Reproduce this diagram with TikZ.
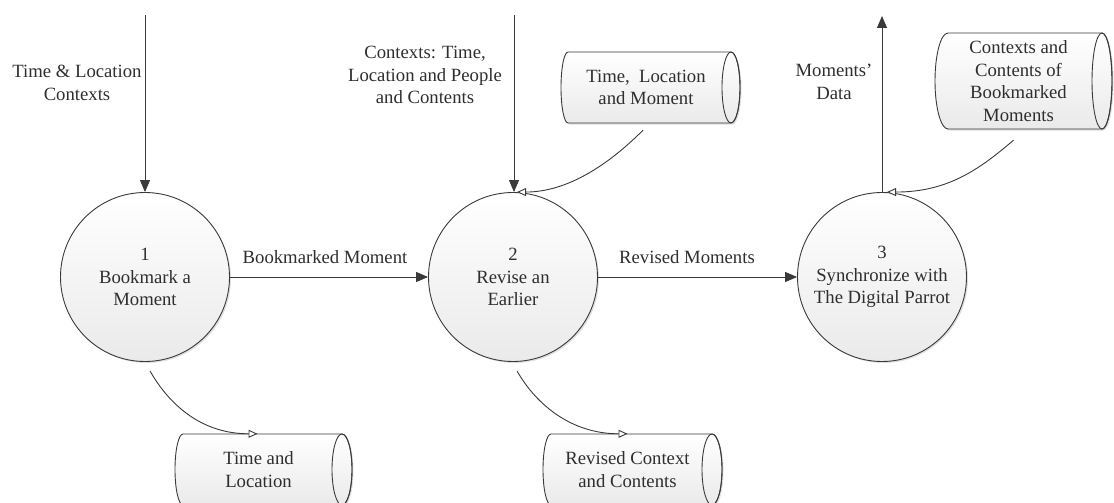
\documentclass[tikz,border=0pt]{standalone}
\usepackage{fontspec}
\setmainfont{Liberation Serif}
\usetikzlibrary{arrows.meta,shadows}

\definecolor{ink}{HTML}{3A3A3A}
\definecolor{txt}{HTML}{2E2E2E}
\definecolor{shadebot}{HTML}{EAEAEA}

\tikzset{
  dfdfont/.style={font=\fontsize{18.7}{22.7}\selectfont, text=txt},
  softshadow/.style={drop shadow={shadow xshift=1.5pt, shadow yshift=-1.5pt,
      opacity=0.18, fill=black!70}},
  proc/.style={circle, draw=ink, line width=0.9pt, minimum size=169pt,
    inner sep=0pt, align=center, top color=white, bottom color=shadebot,
    softshadow, dfdfont},
  storefill/.style={draw=ink, line width=0.9pt, top color=white,
    bottom color=shadebot, softshadow},
  storeline/.style={draw=ink, line width=0.9pt},
  storetext/.style={inner sep=0pt, align=center, dfdfont},
  lbl/.style={inner sep=0pt, align=center, dfdfont},
  flow/.style={draw=ink, line width=0.9pt, -{Triangle[length=12pt,width=10pt]}},
  flowopen/.style={draw=ink, line width=0.9pt,
    -{Triangle[open,length=9pt,width=8pt,fill=white]}},
}

% data store drawn as a horizontal cylinder:
% #1 name, #2 left x, #3 right x, #4 top y, #5 bottom y,
% #6 bulge of the left end, #7 half width of the right end, #8 text
\newcommand{\drawstore}[8]{%
  \pgfmathsetmacro\dsry{(#5-#4)/2}%
  \pgfmathsetmacro\dsyc{(#4+#5)/2}%
  \pgfmathsetmacro\dsxc{(#2-#6+#3)/2}%
  \pgfmathsetmacro\dsw{#3-#2+#6}%
  \pgfmathsetmacro\dsh{#5-#4}%
  \path[storefill] (#2,#4) -- (#3,#4)
    arc[start angle=270, end angle=450, x radius=#7, y radius=\dsry]
    -- (#2,#5)
    arc[start angle=90, end angle=270, x radius=#6, y radius=\dsry] -- cycle;
  \draw[storeline] (#3,\dsyc) ellipse[x radius=#7, y radius=\dsry];
  \node[storetext, minimum width=\dsw pt, minimum height=\dsh pt] (#1)
    at (\dsxc,\dsyc) {#8};
}

\begin{document}
\begin{tikzpicture}[x=1pt, y=-1pt]
  \useasboundingbox (0,0) rectangle (1114,503);
  \clip (0,0) rectangle (1114,503);

  % processes
  \node[proc] (p1) at (145,277) {1\\Bookmark a\\Moment};
  \node[proc] (p2) at (513,277) {2\\Revise an\\Earlier};
  \node[proc] (p3) at (882,277) {3\\Synchronize with\\The Digital Parrot};

  % data stores
  \drawstore{sMoment}{568}{731}{52}{123}{7}{9}{Time,\ \ Location\\and Moment}
  \drawstore{sBookmarked}{948}{1102}{33}{129}{13}{10}{Contexts and\\Contents of\\Bookmarked\\Moments}
  \drawstore{sTimeLoc}{183}{342}{434}{505}{8}{10}{Time and\\Location}
  \drawstore{sRevised}{551}{712}{434}{505}{8}{10}{Revised Context\\and Contents}

  % external ends of the flows
  \coordinate (in1) at (145,15);
  \coordinate (in2) at (514,15);
  \coordinate (out3) at (882,16);

  % flows
  \draw[flow] (in1) -- (p1.north);
  \draw[flow] (in2) -- ([xshift=1pt]p2.north);
  \draw[flow] (p3.north) -- (out3);
  \draw[flow] (p1.east) -- (p2.west);
  \draw[flow] (p2.east) -- (p3.west);

  \draw[flowopen] ([shift={(-3,7)}]sMoment.south)
    .. controls +(-35,35) and +(50,0) .. ([xshift=4pt]p2.north);
  \draw[flowopen] ([shift={(-5,11)}]sBookmarked.south)
    .. controls +(-35,30) and +(60,0) .. ([xshift=5pt]p3.north);
  \draw[flowopen] ([shift={(5,9)}]p1.south)
    .. controls +(20,35) and +(-55,0) .. ([xshift=-1pt]sTimeLoc.north);
  \draw[flowopen] ([shift={(4,9)}]p2.south)
    .. controls +(20,35) and +(-55,0) .. (sRevised.north);

  % flow labels
  \node[lbl] (l1) at (77,83) {Time \& Location\\Contexts};
  \node[lbl] (l2) at (425,75) {Contexts: Time,\\Location and People\\and Contents};
  \node[lbl] (l3) at (325,257) {Bookmarked Moment};
  \node[lbl] (l4) at (687,257) {Revised Moments};
  \node[lbl] (l5) at (834,82) {Moments’\\Data};
\end{tikzpicture}
\end{document}
